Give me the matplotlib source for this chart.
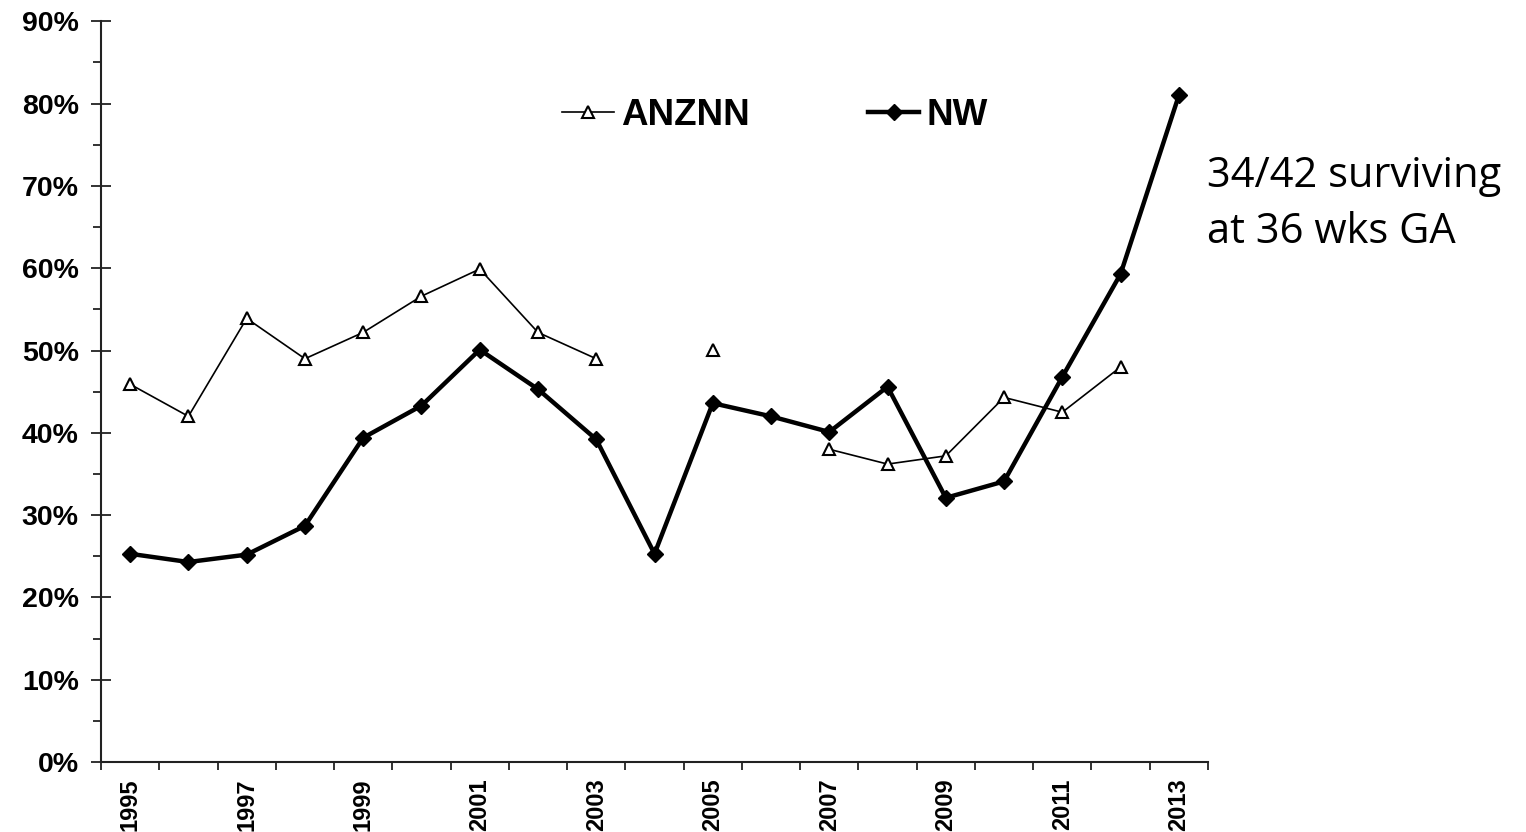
import numpy as np
import matplotlib
matplotlib.use("Agg")
import matplotlib.pyplot as plt
from matplotlib.ticker import FixedLocator, FuncFormatter

years = list(range(1995, 2014))
anznn = [45.9, 42.0, 53.9, 49.0, 52.2, 56.6, 59.9, 52.2, 49.0, np.nan,
         50.1, np.nan, 38.0, 36.2, 37.2, 44.3, 42.5, 48.0, np.nan]
nw = [25.3, 24.3, 25.2, 28.7, 39.4, 43.3, 50.1, 45.3, 39.2, 25.3,
      43.6, 42.0, 40.1, 45.6, 32.1, 34.1, 46.8, 59.3, 81.0]
y_ticks = [0, 10, 20, 30, 40, 50, 60, 70, 80, 90]
annotation_lines = ["34/42 surviving", "at 36 wks GA"]

plt.rcParams['font.family'] = ['Liberation Sans', 'DejaVu Sans']

fig = plt.figure(figsize=(15.26, 8.32), dpi=100)
ax = fig.add_axes([0.0662, 0.0841, 0.7254, 0.8903])

x = np.arange(len(years))
ax.plot(x, anznn, color='black', lw=1.2, marker='^', markersize=9,
        markerfacecolor='white', markeredgecolor='black', markeredgewidth=1.5,
        label='ANZNN', zorder=2)
ax.plot(x, nw, color='black', lw=3.2, marker='D', markersize=8,
        markerfacecolor='black', markeredgecolor='black', label='NW', zorder=3)

ax.set_xlim(-0.5, len(years) - 0.5)
ax.set_ylim(0, 90)

for s in ['top', 'right']:
    ax.spines[s].set_visible(False)
for s in ['left', 'bottom']:
    ax.spines[s].set_color('#222222')
    ax.spines[s].set_linewidth(1.5)

# Y axis
ax.yaxis.set_major_locator(FixedLocator(y_ticks))
ax.yaxis.set_minor_locator(FixedLocator([v + 5 for v in y_ticks[:-1]]))
ax.yaxis.set_major_formatter(FuncFormatter(lambda v, p: f"{int(round(v))}%"))
ax.tick_params(axis='y', which='major', direction='inout', length=14, width=1.3,
               color='#222222', labelsize=20.5, pad=9)
ax.tick_params(axis='y', which='minor', direction='out', length=6, width=1.3,
               color='#222222')
for lab in ax.get_yticklabels():
    lab.set_fontweight('bold')

# X axis: ticks at category boundaries, labels every other year at centres
ax.xaxis.set_major_locator(FixedLocator(np.arange(-0.5, len(years), 1.0)))
ax.xaxis.set_major_formatter(FuncFormatter(lambda v, p: ""))
lab_pos = x[::2]
ax.xaxis.set_minor_locator(FixedLocator(lab_pos))
ax.xaxis.set_minor_formatter(FuncFormatter(lambda v, p: str(years[int(round(v))])))
ax.tick_params(axis='x', which='major', direction='out', length=6, width=1.3,
               color='#222222')
ax.tick_params(axis='x', which='minor', length=0, labelsize=17, pad=12,
               labelrotation=90)
for lab in ax.get_xticklabels(minor=True):
    lab.set_fontweight('bold')

leg = ax.legend(loc='center', bbox_to_anchor=(0.609, 0.873), ncol=2, frameon=False,
                prop={'weight': 'bold', 'size': 26.5}, handlelength=1.4,
                handletextpad=0.2, columnspacing=3.2, numpoints=1)

for txt, yb in zip(annotation_lines, [0.7756, 0.7075]):
    fig.text(0.791, yb, txt, fontsize=30, family=['Open Sans', 'DejaVu Sans'],
             ha='left', va='baseline')

fig.savefig('out.png', dpi=100)
